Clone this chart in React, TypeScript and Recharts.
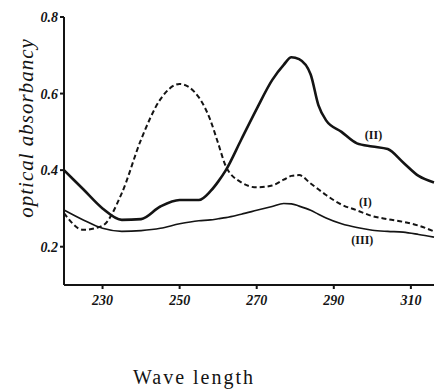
import React from 'react';
import { LineChart, Line, XAxis, YAxis, ReferenceDot } from 'recharts';

// wavelength (nm) and absorbance
const wavelengths = [220, 225, 230, 235, 240, 245, 250, 255, 258, 260, 262, 266, 270, 274, 277, 279, 281, 284, 286, 288, 292, 296, 300, 304, 308, 312, 316];
const curveI = [0.288, 0.244, 0.255, 0.34, 0.48, 0.585, 0.625, 0.59, 0.53, 0.47, 0.41, 0.368, 0.355, 0.36, 0.375, 0.385, 0.387, 0.365, 0.35, 0.335, 0.31, 0.295, 0.28, 0.272, 0.265, 0.255, 0.24];
const curveII = [0.4, 0.35, 0.3, 0.27, 0.272, 0.305, 0.322, 0.322, 0.345, 0.37, 0.4, 0.48, 0.56, 0.635, 0.675, 0.695, 0.69, 0.65, 0.57, 0.53, 0.5, 0.47, 0.462, 0.455, 0.42, 0.385, 0.368];
const curveIII = [0.296, 0.27, 0.248, 0.24, 0.242, 0.248, 0.26, 0.268, 0.27, 0.273, 0.276, 0.285, 0.295, 0.305, 0.313, 0.312, 0.306, 0.295, 0.285, 0.275, 0.26, 0.25, 0.243, 0.24, 0.238, 0.232, 0.225];

const xTicks = [230, 250, 270, 290, 310];
const yTicks = [0.2, 0.4, 0.6, 0.8];

const curveLabels = [
  { name: '(II)', x: 300.3, y: 0.492 },
  { name: '(I)', x: 298.2, y: 0.317 },
  { name: '(III)', x: 297.4, y: 0.218 },
];

const data = wavelengths.map((w, i) => ({
  w,
  I: curveI[i],
  II: curveII[i],
  III: curveIII[i],
}));

const ink = '#141414';
const handFont = 'Liberation Serif';

const XTick = (props: any) => {
  const { x, y, payload } = props;
  return (
    <text x={x} y={y + 14} textAnchor="middle" fontFamily={handFont} fontStyle="italic" fontWeight="bold" fontSize={14} fill={ink}>
      {payload.value}
    </text>
  );
};

const YTick = (props: any) => {
  const { x, y, payload } = props;
  return (
    <text x={x} y={y + 5} textAnchor="end" fontFamily={handFont} fontStyle="italic" fontWeight="bold" fontSize={14} fill={ink}>
      {Number(payload.value).toFixed(1)}
    </text>
  );
};

const XLabel = (props: any) => {
  const { viewBox } = props;
  return (
    <text
      x={viewBox.x + 130}
      y={viewBox.y + viewBox.height - 5}
      textAnchor="middle"
      fontFamily="Liberation Serif"
      fontSize={20}
      letterSpacing={2}
      fill={ink}
    >
      Wave length
    </text>
  );
};

const YLabel = (props: any) => {
  const { viewBox } = props;
  const cx = viewBox.x + 28;
  const cy = 128;
  return (
    <text
      x={cx}
      y={cy}
      transform={`rotate(-90 ${cx} ${cy})`}
      textAnchor="middle"
      dominantBaseline="middle"
      fontFamily={handFont}
      fontStyle="italic"
      fontSize={21}
      letterSpacing={1}
      fill={ink}
    >
      optical  absorbancy
    </text>
  );
};

const App: React.FC = () => {
  return (
    <div style={{ position: 'absolute', left: 0, top: 0, background: '#fff' }}>
      <LineChart
        width={435}
        height={389}
        data={data}
        margin={{ top: 17, right: 1, left: 0, bottom: 0 }}
      >
        <XAxis
          dataKey="w"
          type="number"
          domain={[220, 316]}
          ticks={xTicks}
          height={104}
          stroke={ink}
          strokeWidth={2}
          tickSize={4}
          tick={<XTick />}
          label={<XLabel />}
        />
        <YAxis
          type="number"
          domain={[0.1, 0.8]}
          ticks={yTicks}
          width={64}
          stroke={ink}
          strokeWidth={2}
          tickSize={4}
          tick={<YTick />}
          label={<YLabel />}
        />
        <Line
          dataKey="I"
          type="monotone"
          stroke={ink}
          strokeWidth={2}
          strokeDasharray="5 3"
          dot={false}
          isAnimationActive={false}
        />
        <Line
          dataKey="II"
          type="monotone"
          stroke={ink}
          strokeWidth={2.6}
          dot={false}
          isAnimationActive={false}
        />
        <Line
          dataKey="III"
          type="monotone"
          stroke={ink}
          strokeWidth={1.6}
          dot={false}
          isAnimationActive={false}
        />
        {curveLabels.map((c) => (
          <ReferenceDot
            key={c.name}
            x={c.x}
            y={c.y}
            r={0}
            stroke="none"
            fill="none"
            label={{ value: c.name, position: 'center', fill: ink, fontSize: 12, fontWeight: 'bold', fontFamily: handFont }}
          />
        ))}
      </LineChart>
    </div>
  );
};

export default App;
